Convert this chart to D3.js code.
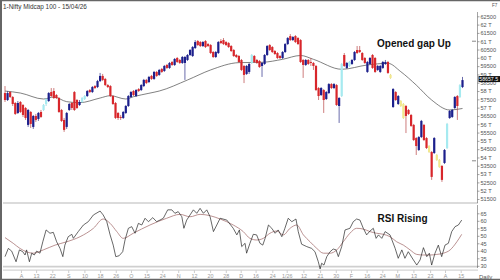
<!DOCTYPE html>
<html><head><meta charset="utf-8">
<script src="https://cdn.jsdelivr.net/npm/d3@7"></script>
<style>html,body{margin:0;padding:0;background:#fff;}svg{display:block;font-family:"Liberation Sans",Arial,sans-serif;}</style>
</head><body><svg id="c" width="500" height="280"></svg>
<script>
// ---------- DATA ----------
const open = [57880,57460,57940,57640,57280,56680,57340,57160,56980,55960,
56740,55840,56500,56320,56740,56860,57220,57400,57940,58000,
57760,57580,56860,56260,55840,56860,57280,57940,57460,57160,
57340,57520,57700,58060,57940,58300,58240,58600,58910,58730,
58360,58300,57700,57280,56680,56440,56380,56680,57100,57640,
58000,57700,58120,58060,58300,58670,58540,58910,58730,59150,
58970,59330,59210,59570,59390,59750,59570,59990,59870,59690,
59690,59870,60170,60110,60590,61010,60950,60710,61010,60830,
60770,60350,60050,60290,61010,61070,60950,60890,60710,60470,
60170,60110,59870,59510,59030,59150,59690,60110,59870,59810,
59510,59630,60170,60770,60650,60410,60290,60110,59990,60350,
60830,61310,61070,61310,61190,61070,59870,59570,59870,59750,
59690,59510,58180,57760,58060,57520,57880,58420,58180,58360,
57100,57700,60170,59390,59510,59630,59870,60470,60470,60290,
59990,59150,59630,60170,59990,59270,59150,59390,59630,59750,
58970,57040,57940,57220,57400,57220,57100,56860,56560,55960,
55170,54450,55230,55960,55170,54690,54330,54270,54150,53850,
53490,53670,54570,56380,56440,56980,57700,57640,58240];
const high = [58300,58000,58000,57700,57340,57400,57400,57220,57040,56920,
56800,56560,56620,56740,56860,57220,57580,57940,58180,58180,
57820,57640,56920,56380,56740,57280,57340,58000,57520,57460,
57640,57760,58060,58120,58300,58360,58670,59090,59030,58790,
58420,58360,57760,57340,56740,56560,56800,57160,57760,58000,
58060,58120,58180,58420,58730,58730,58910,58970,59210,59210,
59330,59390,59570,59630,59750,59810,59990,60050,59930,60110,
60110,60230,60530,60710,61070,61070,61010,61010,61070,60890,
60830,60410,60410,61010,61130,61190,61010,60950,60770,60530,
60230,60170,59930,59570,59570,59690,60230,60170,59930,59870,
59750,60230,60770,60830,60710,60470,60350,60170,60410,60890,
61250,61430,61310,61370,61250,61130,59930,59930,59930,59990,
59750,59570,58240,58240,58120,58000,58480,58480,58480,58420,
57640,59690,60290,59750,59810,59930,60410,60710,60710,60350,
60050,59810,60050,60230,60050,59570,59570,59810,59870,59810,
59030,58180,58000,57760,57460,57280,57160,56920,56620,56020,
55230,55290,56260,56020,55230,54750,54390,55230,54210,53910,
53550,54510,56080,56860,56920,57700,57760,58420,58850];
const low = [57340,57400,57580,57100,56560,56620,56680,56440,56260,55840,
55780,55720,56140,56200,56380,56800,57100,57340,57640,57520,
57520,56680,56140,55540,55720,56800,56860,56800,56920,57100,
57280,57460,57640,57880,57880,58120,58180,58540,58600,58300,
58180,57640,57160,56320,56260,56260,56320,56620,57040,57580,
57700,57640,57940,58000,58240,58420,58480,58670,58670,58850,
58910,59090,59150,59330,59330,59510,59510,59690,59630,59630,
58670,59810,60110,60050,60530,60710,60650,60650,60590,60650,
60230,59990,59990,60230,60830,60770,60710,60590,60350,60050,
59990,59690,59210,58480,58970,59030,59630,59690,59630,59390,
58850,59570,60110,60410,60290,60170,59930,59930,59930,60290,
60770,61010,61010,60890,60770,59690,58790,59510,59570,59510,
59270,58000,57460,57700,56680,57460,57820,58120,58120,57100,
56080,57640,59450,59330,59450,59570,59810,60230,60290,59810,
59630,59090,59570,59330,59090,59210,59090,59330,59570,59030,
58730,56980,57400,57160,57040,56320,55470,56560,55840,54990,
54150,54390,55170,54990,54510,54270,52650,54210,53790,53370,
52530,53610,54510,56320,56380,56920,56260,57580,58180];
const close = [57460,57880,57640,57220,56620,57280,56740,56560,56380,56860,
56020,56500,56260,56680,56440,57160,57520,57880,57700,57580,
57580,56740,56200,55660,56680,57220,56980,56860,56980,57340,
57580,57700,58000,57940,58240,58180,58600,58910,58670,58360,
58240,57700,57220,56380,56380,56380,56740,57100,57700,57940,
57760,58060,58000,58360,58670,58480,58850,58730,59150,58910,
59270,59150,59510,59390,59690,59570,59930,59750,59690,60050,
60050,60170,60470,60650,60950,60770,60710,60950,60650,60710,
60290,60050,60350,60950,60890,60830,60770,60650,60410,60110,
60050,59750,59270,58970,59510,59630,60170,59750,59690,59450,
59690,60170,60710,60470,60350,60230,59990,59990,60350,60830,
61190,61070,61250,60950,60830,59750,59570,59870,59630,59690,
59510,58060,57700,58180,57460,57940,58420,58180,58420,57160,
57580,59630,59510,59690,59750,59870,60350,60290,60350,59870,
59690,59750,59990,59390,59150,59510,59510,59750,59750,59090,
58790,58120,57460,57700,57100,56380,56500,56620,55900,55050,
54690,55230,56200,55050,54570,54330,52830,55170,53850,53430,
52650,54450,56020,56800,56860,57640,57100,58360,58660];
// special candle colours (bar indices)
const cyanBars = [15,16,30,31,96,131,134,172,177];
const yellowBars = [150,154,155,165,168,169];
// moving average on price
const maBar = [0,6,15,19,24,29,37,41,47,50,56,60,71,80,91,100,108,115,120,131,141,149,154,160,166,173,178];
const maVal = [58000,57880,57520,57640,57360,57300,57580,57720,57520,57660,57865,58000,58665,59270,59710,59730,59910,60140,59910,59310,59570,59670,59165,58360,57460,56860,56950];
// RSI and its average
const rsiBar = [0,1.3,2.6,4.3,5.6,6.9,7.8,8.4,9.5,10.4,11.4,12.3,13.6,14.7,16,17.5,18.8,20.1,21.4,22.5,
23.3,24.6,26,26.6,28.5,30.5,32.4,34.4,37,38.2,39.6,40.9,42.1,43.1,44.4,45.8,46.7,48,49.3,50.6,
51.9,53.2,54.5,55.8,57.5,59,60.3,61.6,63.3,64.9,66.1,67.4,68.8,69.6,70.7,72,73.3,74.6,75.9,77.2,
78.5,79.8,81.1,82.4,83.7,86.3,88.8,90.2,91.2,92.1,93.4,94,95.3,96.6,97.9,99.2,100.3,101.2,102.5,103.8,
105.1,106.3,107.7,108.9,110.2,111.6,113.2,114.1,115.4,117.4,119.3,120.6,121.9,122.6,123.2,124.1,125.2,126.5,127.7,128.8,
129.7,131,132.3,134.2,135.5,136.8,138.1,139.4,140.7,142,143.3,144.4,145.3,146.6,147.9,149.8,151.8,153,154.4,155.6,
156.9,158.9,160.2,161.5,162.8,164.1,165.1,166,167.3,168.6,169.9,171.2,172.5,173.8,175.1,176.4,177.7];
const rsiVal = [36.1,41.6,39.8,32.7,40.6,39.4,37.2,40.6,32.7,38.4,37.2,39.8,38.4,46.0,53.9,51.7,52.3,46.0,41.6,36.1,
43.8,49.4,51.0,48.3,52.8,57.2,59.4,63.9,66.5,63.9,59.4,50.6,43.8,36.1,36.7,39.4,47.2,55.0,56.1,51.7,
58.3,57.2,61.7,59.4,62.1,59.4,60.5,61.7,67.3,67.3,65.0,66.1,62.7,55.0,60.5,63.9,67.3,65.0,68.3,65.0,
67.3,62.7,52.8,57.2,61.7,60.5,55.0,50.6,53.9,42.8,45.0,38.4,45.0,51.0,50.6,45.0,43.8,48.3,57.2,55.0,
51.7,53.9,49.4,55.0,61.7,59.4,61.2,52.8,44.4,42.8,41.6,39.4,32.7,27.9,31.7,30.5,36.1,39.4,41.2,40.6,
36.1,42.8,53.9,55.0,59.4,61.2,60.5,55.0,50.6,53.2,55.0,48.3,50.6,48.3,52.8,50.6,41.6,35.0,40.6,35.0,
39.4,33.9,30.5,33.9,42.1,36.1,38.4,30.5,38.4,43.8,36.1,43.8,45.0,52.8,56.1,57.2,60.5];
const sigBar = [0,3.2,5.8,11,14.9,19.5,24,29.2,34.4,38.2,40.9,43.5,46,49.9,56.4,62.9,68.1,72,75.9,79.8,
83.7,88.8,92.7,95.3,97.9,100.5,103.1,105.7,108.3,110.9,113.5,116.1,118.7,121.3,123.9,126.5,129.1,131.6,134.2,136.8,
139.4,142,144.6,147.2,149.8,152.4,155,157.6,160.2,162.8,165.4,168,170.6,173.2,175.8,177.7];
const sigVal = [48.8,45.0,41.6,38.4,40.6,43.8,46.0,49.4,55.0,61.2,58.3,52.8,48.3,51.7,57.2,61.7,64.3,62.7,64.3,63.4,
61.2,57.2,52.8,48.3,47.2,48.3,51.7,53.2,50.6,55.0,57.2,50.6,46.0,41.6,38.4,38.4,40.6,46.0,51.7,55.0,
54.5,52.8,51.7,51.0,49.4,46.0,43.8,40.6,37.6,37.2,37.2,37.6,38.4,40.6,46.0,51.0];
// axis ticks
const priceTicks = [51500,52000,52500,53000,53500,54000,54500,55000,55500,56000,56500,57000,57500,58000,58500,59000,59500,60000,60500,61000,61500,62000,62500];
const priceMarks = [61000,53800];
const rsiTicks = [30,35,40,45,50,55,60,65];
const xTickLabels = ["A","13","22","S","10","18","26","O","15","24","N","12","20","28","D","16","24","1/26","12","21","30","F","16","24","M","13","23","A","15"];
const xTickBars = [6.2,12.1,18.4,24.6,30.9,37,43.1,49,55.1,61.2,67.4,73.5,79.8,85.9,91.7,97.5,104,109.6,116.1,122.6,128.7,134.6,140.7,146.8,152.6,158.9,165.4,171.2,177.3];
const lastLabel = "58657.5";

// ---------- DRAW ----------
const svg = d3.select("#c");
const nBars = close.length;
const x = d3.scaleLinear().domain([0, nBars - 1]).range([5, 462.5]);
const y = d3.scaleLinear().domain([51500, 62500]).range([199, 16.3]);
const yr = d3.scaleLinear().domain([30, 65]).range([265.8, 213.3]);

svg.append("rect").attr("width",500).attr("height",280).attr("fill","#fff");

// panel lines
[[203,1.6,"#cfcfcf"],[266.6,1.6,"#cfcfcf"],[270.2,1.2,"#d4d4d4"]].forEach(([yy,w,c])=>{
  svg.append("line").attr("x1",3).attr("x2",478).attr("y1",yy).attr("y2",yy)
    .attr("stroke",c).attr("stroke-width",w);
});

// moving average
svg.append("path")
  .datum(maBar.map((b,i)=>[b,maVal[i]]))
  .attr("fill","none").attr("stroke","#4a4a4a").attr("stroke-width",0.7)
  .attr("d", d3.line().x(d=>x(d[0])).y(d=>y(d[1])).curve(d3.curveMonotoneX));

// candles
const cyanSet = new Set(cyanBars), yellowSet = new Set(yellowBars);
const bars = close.map((c,i)=>({i, o:open[i], h:high[i], l:low[i], c}));
function bodyColor(d){
  if (cyanSet.has(d.i)) return "#a6eaf0";
  if (yellowSet.has(d.i)) return "#f2e88c";
  return d.c >= d.o ? "#1c1f8c" : "#d8262b";
}
function wickColor(d){
  if (cyanSet.has(d.i)) return "#86d3dc";
  if (yellowSet.has(d.i)) return "#d9cc6a";
  return d.c >= d.o ? "#2a2d88" : "#b84545";
}
const cg = svg.append("g");
cg.selectAll("line.w").data(bars).join("line")
  .attr("x1",d=>x(d.i)).attr("x2",d=>x(d.i))
  .attr("y1",d=>y(d.h)).attr("y2",d=>y(d.l))
  .attr("stroke",wickColor).attr("stroke-width",0.7);
cg.selectAll("rect.b").data(bars).join("rect")
  .attr("x",d=>x(d.i)-1.1).attr("width",2.2)
  .attr("y",d=>y(Math.max(d.o,d.c)))
  .attr("height",d=>Math.max(0.8, Math.abs(y(d.o)-y(d.c))))
  .attr("fill",bodyColor);

// RSI
svg.append("path")
  .datum(sigBar.map((b,i)=>[b,sigVal[i]]))
  .attr("fill","none").attr("stroke","#a36e6e").attr("stroke-width",0.75)
  .attr("d", d3.line().x(d=>x(d[0])).y(d=>yr(d[1])).curve(d3.curveMonotoneX));
svg.append("path")
  .datum(rsiBar.map((b,i)=>[b,rsiVal[i]]))
  .attr("fill","none").attr("stroke","#262626").attr("stroke-width",0.7)
  .attr("d", d3.line().x(d=>x(d[0])).y(d=>yr(d[1])));

// right price axis
svg.append("line").attr("x1",477.5).attr("x2",477.5).attr("y1",12).attr("y2",203).attr("stroke","#666").attr("stroke-width",0.6);
const pa = svg.append("g").attr("transform","translate(477.5,0)")
  .call(d3.axisRight(y).tickValues(priceTicks)
    .tickFormat(v => v % 1000 === 0 ? (v/1000) + " T" : String(v))
    .tickSize(2).tickPadding(1));
pa.select(".domain").remove();
pa.selectAll("line").attr("stroke","#666").attr("stroke-width",0.6);
pa.selectAll("text").attr("font-size",5.6).attr("fill","#555").attr("font-family","Liberation Sans, Arial, sans-serif");
priceMarks.forEach(v=>{
  svg.append("line").attr("x1",472).attr("x2",476).attr("y1",y(v)).attr("y2",y(v)).attr("stroke","#555").attr("stroke-width",0.7);
});

// last price label (drawn over the axis labels, like the reference)
const ly = y(close[nBars-1]) - 1;
svg.append("rect").attr("x",478.5).attr("y",ly-3).attr("width",21.5).attr("height",6).attr("fill","#111");
svg.append("text").attr("x",479.3).attr("y",ly+1.8).attr("font-size",5.2).attr("fill","#fff").text(lastLabel);

// RSI axis
svg.append("line").attr("x1",477.5).attr("x2",477.5).attr("y1",205).attr("y2",268).attr("stroke","#666").attr("stroke-width",0.6);
const ra = svg.append("g").attr("transform","translate(477.5,0)")
  .call(d3.axisRight(yr).tickValues(rsiTicks).tickSize(2).tickPadding(1));
ra.select(".domain").remove();
ra.selectAll("line").attr("stroke","#666").attr("stroke-width",0.6);
ra.selectAll("text").attr("font-size",5.6).attr("fill","#555").attr("font-family","Liberation Sans, Arial, sans-serif");

// bottom axis
const xa = svg.append("g").attr("transform","translate(0,270.5)")
  .call(d3.axisBottom(x).tickValues(xTickBars).tickFormat((d,i)=>xTickLabels[i]).tickSize(2.5).tickPadding(1.2));
xa.select(".domain").remove();
xa.selectAll("line").attr("stroke","#aaa").attr("stroke-width",0.6);
xa.selectAll("text").attr("font-size",5.4).attr("fill","#999").attr("font-family","Liberation Sans, Arial, sans-serif");
svg.append("text").attr("x",479).attr("y",278.5).attr("font-size",6).attr("fill","#555").text("Daily");

// titles and annotations
svg.append("text").attr("x",3).attr("y",8.5).attr("font-size",6.4).attr("fill","#333").text("1-Nifty Midcap 100 - 15/04/26");
svg.append("text").attr("x",492).attr("y",6.5).attr("font-size",4.6).attr("fill","#555").text("F7");
svg.append("text").attr("x",414).attr("y",47).attr("text-anchor","middle").attr("font-size",10).attr("font-weight","bold").attr("fill","#111").text("Opened gap Up");
svg.append("text").attr("x",402.5).attr("y",221.5).attr("text-anchor","middle").attr("font-size",10).attr("font-weight","bold").attr("fill","#111").text("RSI Rising");

// frame
svg.append("line").attr("x1",1).attr("x2",1).attr("y1",0).attr("y2",280).attr("stroke","#666").attr("stroke-width",2);
svg.append("line").attr("x1",0).attr("x2",500).attr("y1",0.6).attr("y2",0.6).attr("stroke","#666").attr("stroke-width",1.2);
svg.append("line").attr("x1",0).attr("x2",500).attr("y1",279.4).attr("y2",279.4).attr("stroke","#666").attr("stroke-width",1.2);
</script></body></html>
